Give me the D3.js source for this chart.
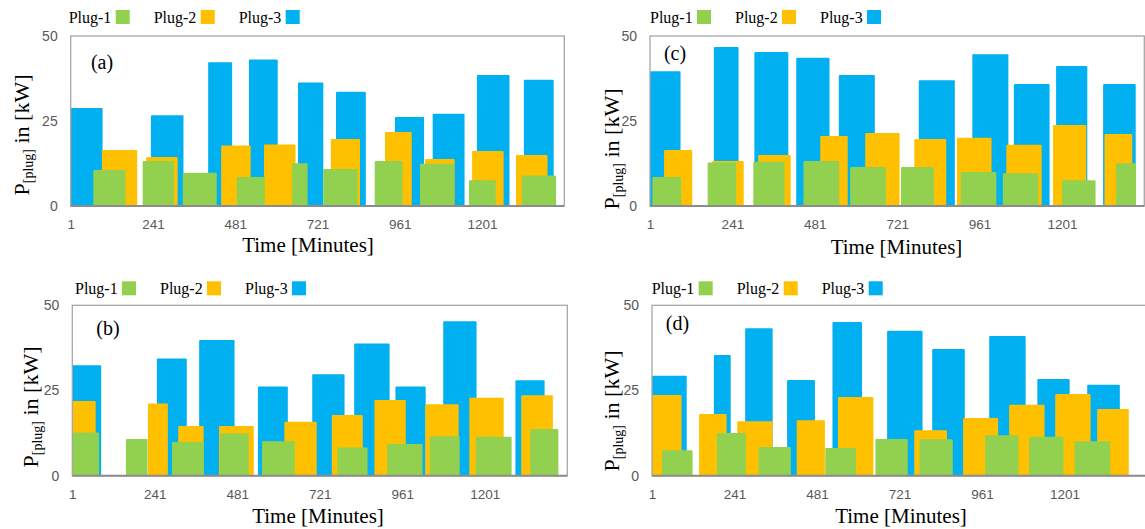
<!DOCTYPE html>
<html><head><meta charset="utf-8">
<script src="https://cdn.jsdelivr.net/npm/d3@7"></script>
<style>body{margin:0;background:#fff} svg{display:block}</style>
</head><body>
<svg id="chart" width="1145" height="529"></svg>
<script>
// ---- data (minutes start, minutes end, kW) ----
const seriesNames = ["Plug-1", "Plug-2", "Plug-3"];
const xTickValues = [1, 241, 481, 721, 961, 1201];
const yTickValues = [0, 25, 50];
const panelLabels = ["(a)", "(b)", "(c)", "(d)"];

const a_plug1 = [[67,161,10.6],[211,302,13.2],[328,427,9.8],[486,567,8.5],[647,692,12.6],[738,838,10.9],[888,969,13.2],[1020,1119,12.4],[1163,1241,7.6],[1317,1417,9.0]];
const a_plug2 = [[92,195,16.5],[221,313,14.4],[440,526,17.8],[565,657,18.1],[760,845,19.7],[918,996,21.8],[1035,1121,13.8],[1172,1264,16.2],[1300,1392,15.0]];
const a_plug3 = [[1,94,28.8],[235,330,26.7],[402,472,42.3],[521,605,43.1],[664,738,36.3],[775,862,33.6],[947,1032,26.2],[1057,1150,27.1],[1186,1281,38.5],[1323,1410,37.1]];

const b_plug1 = [[1,79,12.7],[157,220,10.8],[291,383,9.9],[431,514,12.4],[553,648,10.1],[772,860,8.3],[917,1020,9.3],[1041,1128,11.6],[1175,1279,11.4],[1333,1415,13.7]];
const b_plug2 = [[1,69,21.9],[221,279,21.2],[309,383,14.6],[428,529,14.6],[618,712,15.8],[756,846,17.8],[880,971,22.2],[1028,1125,21.0],[1156,1256,22.9],[1307,1399,23.6]];
const b_plug3 = [[1,85,32.4],[247,334,34.4],[370,473,39.8],[541,628,26.2],[699,793,29.8],[821,924,38.8],[941,1029,26.2],[1080,1177,45.3],[1290,1375,28.0]];

const c_plug1 = [[8,92,8.5],[169,252,12.8],[302,393,13.0],[448,552,13.2],[584,688,11.5],[732,828,11.5],[906,1010,10.0],[1029,1132,9.6],[1201,1299,7.6],[1359,1417,12.6]];
const c_plug2 = [[42,124,16.5],[182,274,13.2],[316,411,15.0],[497,577,20.6],[628,728,21.5],[771,864,19.7],[895,996,20.1],[1039,1142,18.0],[1175,1272,23.8],[1325,1406,21.2]];
const c_plug3 = [[1,90,39.6],[187,259,46.8],[305,404,45.3],[427,524,43.6],[551,656,38.5],[784,889,37.0],[940,1045,44.6],[1061,1165,35.9],[1184,1275,41.2],[1321,1416,35.9]];

const d_plug1 = [[30,119,7.5],[190,274,12.5],[311,405,8.4],[505,594,8.1],[651,745,10.8],[779,876,10.7],[970,1067,11.9],[1098,1198,11.4],[1230,1334,10.1]];
const d_plug2 = [[1,87,23.7],[138,218,18.1],[249,352,16.0],[422,504,16.3],[542,645,23.1],[764,859,13.3],[906,1008,16.9],[1040,1143,20.8],[1174,1277,24.0],[1296,1388,19.6]];
const d_plug3 = [[1,102,29.3],[181,230,35.4],[272,352,43.3],[394,475,28.1],[526,612,45.1],[685,788,42.5],[816,911,37.2],[982,1088,41.0],[1122,1216,28.4],[1267,1362,26.7]];

// ---- layout ----
const colors = ["#92D050", "#FFC000", "#00B0F0"];
const panels = [
  {label: panelLabels[0], series: [a_plug1, a_plug2, a_plug3], left: 70.7, top: 36, w: 493.6, h: 170,
   legX: 68.7, legY: 17, ytX: 28.5, ytY: 135, lblX: 102, lblY: 68.5, xtX: 308, xtY: 252},
  {label: panelLabels[1], series: [b_plug1, b_plug2, b_plug3], left: 72.3, top: 305.3, w: 495, h: 170.4,
   legX: 75, legY: 288.3, ytX: 38.4, ytY: 407, lblX: 108, lblY: 335, xtX: 318, xtY: 522.5},
  {label: panelLabels[2], series: [c_plug1, c_plug2, c_plug3], left: 650, top: 36, w: 494.3, h: 170,
   legX: 650, legY: 17, ytX: 618.8, ytY: 149, lblX: 675, lblY: 60, xtX: 896.5, xtY: 254},
  {label: panelLabels[3], series: [d_plug1, d_plug2, d_plug3], left: 652, top: 305.3, w: 495, h: 170.4,
   legX: 651.7, legY: 288.3, ytX: 618.8, ytY: 411, lblX: 677.5, lblY: 330, xtX: 901, xtY: 522.5}
];

const svg = d3.select("#chart");
const serif = "'Liberation Serif','Times New Roman',serif";
const sans = "'Liberation Sans',Arial,sans-serif";

panels.forEach(p => {
  const g = svg.append("g");
  const x = d3.scaleLinear().domain([1, 1441]).range([p.left, p.left + p.w]);
  const y = d3.scaleLinear().domain([0, 50]).range([p.top + p.h, p.top]);

  // bars: Plug-3 behind, Plug-2, then Plug-1 in front
  [2, 1, 0].forEach(si => {
    g.append("g").selectAll("rect").data(p.series[si]).join("rect")
      .attr("x", d => x(d[0]))
      .attr("width", d => x(d[1]) - x(d[0]))
      .attr("y", d => y(d[2]))
      .attr("height", d => y(0) - y(d[2]))
      .attr("rx", 1)
      .attr("fill", colors[si]);
  });

  // frame
  g.append("rect").attr("x", p.left).attr("y", p.top).attr("width", p.w).attr("height", p.h)
    .attr("fill", "none").attr("stroke", "#a6a6a6").attr("stroke-width", 1.3);
  g.append("line").attr("x1", p.left).attr("x2", p.left + p.w).attr("y1", y(0)).attr("y2", y(0))
    .attr("stroke", "#8c8c8c").attr("stroke-width", 2);

  // x axis labels
  const xa = g.append("g").attr("transform", `translate(0,${y(0)})`)
    .call(d3.axisBottom(x).tickValues(xTickValues).tickSize(0).tickPadding(13.5).tickFormat(d3.format("d")));
  xa.select(".domain").remove();
  xa.selectAll("text").attr("fill", "#595959").style("font-family", sans).style("font-size", "13.5px");

  // y axis labels
  const ya = g.append("g").attr("transform", `translate(${p.left},0)`)
    .call(d3.axisLeft(y).tickValues(yTickValues).tickSize(0).tickPadding(13));
  ya.select(".domain").remove();
  ya.selectAll("text").attr("fill", "#595959").style("font-family", sans).style("font-size", "14px");

  // legend
  seriesNames.forEach((name, i) => {
    const lx = p.legX + i * 85;
    g.append("text").attr("x", lx).attr("y", p.legY).attr("dy", "0.35em")
      .style("font-family", serif).style("font-size", "16px").attr("fill", "#000").text(name);
    g.append("rect").attr("x", lx + 47).attr("y", p.legY - 7).attr("width", 14).attr("height", 14)
      .attr("fill", colors[i]);
  });

  // panel label
  g.append("text").attr("x", p.lblX).attr("y", p.lblY).attr("text-anchor", "middle")
    .style("font-family", serif).style("font-size", "20px").text(p.label);

  // x title
  g.append("text").attr("x", p.xtX).attr("y", p.xtY).attr("text-anchor", "middle")
    .style("font-family", serif).style("font-size", "21px").text("Time [Minutes]");

  // y title
  const yt = g.append("text").attr("transform", `translate(${p.ytX},${p.ytY}) rotate(-90)`)
    .attr("text-anchor", "middle").style("font-family", serif).style("font-size", "22px");
  yt.append("tspan").text("P");
  yt.append("tspan").attr("dy", 4).style("font-size", "14px").text("[plug]");
  yt.append("tspan").attr("dy", -4).text(" in [kW]");
});
</script>
</body></html>
